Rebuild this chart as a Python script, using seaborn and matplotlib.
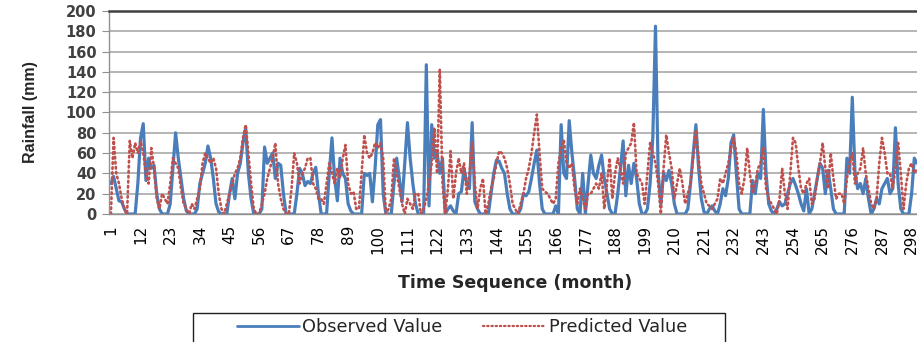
import matplotlib
matplotlib.use("Agg")
import matplotlib.pyplot as plt
from matplotlib.patches import Rectangle
import seaborn as sns
import pandas as pd
import numpy as np

months = list(range(1, 301))

observed = [
    30, 37, 25, 13, 12, 5, 0, 0, 0, 0,
    30, 75, 89, 33, 55, 45, 48, 20, 5, 0,
    0, 0, 10, 45, 80, 55, 35, 15, 3, 0,
    0, 0, 5, 30, 40, 50, 67, 55, 35, 10,
    2, 0, 0, 0, 20, 35, 15, 40, 50, 70,
    85, 40, 15, 0, 0, 0, 5, 66, 50, 55,
    60, 35, 50, 48, 20, 0, 0, 0, 0, 20,
    45, 40, 28, 32, 30, 40, 46, 20, 0, 0,
    0, 40, 75, 35, 13, 55, 40, 35, 10, 3,
    0, 0, 0, 0, 40, 38, 40, 12, 45, 88,
    93, 20, 0, 0, 0, 30, 55, 35, 12, 50,
    90, 55, 30, 10, 0, 0, 0, 147, 8, 88,
    55, 60, 40, 55, 0, 5, 8, 3, 0, 20,
    22, 45, 30, 25, 90, 12, 5, 0, 0, 0,
    0, 20, 40, 53, 52, 45, 40, 20, 5, 0,
    0, 0, 5, 20, 18, 22, 35, 50, 63, 30,
    5, 0, 0, 0, 0, 8, 0, 88, 40, 35,
    92, 60, 35, 5, 0, 40, 0, 30, 58, 40,
    35, 48, 58, 35, 20, 5, 0, 0, 20, 45,
    72, 18, 48, 30, 50, 35, 10, 0, 0, 5,
    30, 75, 185, 40, 10, 40, 33, 43, 30, 10,
    0, 0, 0, 0, 5, 30, 60, 88, 45, 15,
    2, 0, 5, 8, 3, 0, 10, 25, 18, 35,
    70, 78, 40, 5, 0, 0, 0, 0, 33, 20,
    40, 35, 103, 40, 10, 3, 0, 5, 12, 8,
    10, 20, 30, 35, 28, 20, 10, 3, 25, 0,
    5, 20, 35, 50, 45, 20, 43, 25, 5, 0,
    0, 0, 0, 55, 40, 115, 40, 25, 30, 20,
    35, 15, 0, 5, 15, 10, 25, 30, 35, 20,
    25, 85, 30, 5, 0, 0, 0, 20, 55, 50,
]

predicted = [
    0, 75, 40, 30, 15, 5, 0, 72, 55, 70,
    60, 72, 60, 40, 30, 65, 45, 15, 5, 20,
    15, 10, 30, 55, 50, 45, 25, 10, 5, 0,
    10, 5, 15, 25, 50, 60, 55, 50, 55, 45,
    20, 5, 0, 10, 20, 30, 40, 45, 55, 75,
    88, 60, 30, 5, 0, 0, 10, 20, 35, 45,
    55, 70, 30, 15, 5, 0, 0, 25, 60, 50,
    30, 40, 45, 55, 55, 30, 25, 15, 15, 10,
    30, 50, 40, 30, 45, 35, 55, 68, 30, 20,
    22, 5, 5, 40, 78, 60, 55, 60, 70, 65,
    70, 55, 0, 5, 15, 55, 40, 25, 10, 0,
    15, 10, 5, 20, 20, 0, 5, 15, 30, 50,
    85, 40, 143, 30, 0, 25, 62, 15, 40, 55,
    40, 50, 20, 40, 70, 30, 5, 25, 35, 0,
    10, 25, 35, 50, 62, 60, 55, 45, 30, 10,
    5, 0, 10, 20, 35, 45, 60, 80, 98, 60,
    25, 22, 20, 15, 10, 15, 50, 65, 73, 50,
    45, 50, 25, 10, 25, 15, 5, 20, 20, 25,
    30, 25, 40, 5, 30, 55, 15, 40, 55, 45,
    30, 60, 65, 70, 90, 40, 35, 30, 10, 40,
    70, 60, 50, 30, 0, 45, 78, 60, 45, 15,
    30, 45, 30, 10, 20, 30, 55, 83, 55, 30,
    20, 10, 8, 5, 10, 15, 35, 30, 40, 50,
    65, 75, 60, 30, 20, 35, 65, 40, 20, 30,
    45, 50, 65, 25, 15, 10, 5, 0, 15, 45,
    20, 5, 40, 75, 70, 45, 25, 20, 30, 35,
    10, 15, 35, 50, 70, 45, 25, 60, 35, 15,
    20, 20, 10, 35, 50, 60, 30, 40, 45, 65,
    40, 25, 10, 5, 15, 50, 75, 60, 40, 40,
    25, 45, 70, 40, 5, 30, 45, 50, 40, 45,
]

series_names = ["Observed Value", "Predicted Value"]
y_ticks = list(range(0, 201, 20))

df = pd.DataFrame({"month": months, "Observed Value": observed, "Predicted Value": predicted})

sns.set_style("white")
plt.rcParams["font.family"] = ["DejaVu Sans"]

W, H = 917, 342
fig = plt.figure(figsize=(W / 100, H / 100), dpi=100)
ax = fig.add_axes([109 / W, (H - 214) / H, (W - 109) / W, 203 / H])

blue = "#4A7EBB"
red = "#C0504D"

sns.lineplot(data=df, x="month", y="Observed Value", ax=ax, color=blue, lw=2.3,
             label=series_names[0], legend=False)
sns.lineplot(data=df, x="month", y="Predicted Value", ax=ax, color=red, lw=1.9,
             linestyle=(0, (0.6, 1.3)), dash_capstyle="round",
             label=series_names[1], legend=False)

ax.set_xlim(0.3, 299.9)
ax.set_ylim(0, 200)
ax.set_yticks(y_ticks)
ax.set_yticklabels([str(v) for v in y_ticks], fontsize=10.5, fontweight="bold", color="#404040")
ax.set_xticks(months)
lbls = [str(m) if (m - 1) % 11 == 0 else "" for m in months]
ax.set_xticklabels(lbls, rotation=90, fontsize=11, color="black")
ax.tick_params(axis="x", length=5, width=0.8, color="#909090", pad=3)
ax.tick_params(axis="y", length=5, width=0.8, color="#909090", pad=4, direction="out", left=True)
ax.set_xlabel("")
ax.set_ylabel("")
ax.yaxis.grid(True, color="#A0A0A0", lw=1.1)
ax.xaxis.grid(False)
ax.set_axisbelow(True)

for s in ["left", "bottom"]:
    ax.spines[s].set_color("#909090")
    ax.spines[s].set_linewidth(1.0)
ax.spines["right"].set_visible(False)
ax.spines["top"].set_color("#404040")
ax.spines["top"].set_linewidth(1.8)

fig.text(30 / W, 1 - 112 / H, "Rainfall (mm)", rotation=90, ha="center", va="center",
         fontsize=11.5, fontweight="bold", family=["Liberation Sans", "DejaVu Sans"])
fig.text(515 / W, 1 - 283 / H, "Time Sequence (month)", ha="center", va="center",
         fontsize=12.5, fontweight="bold")

# legend frame (box runs off the bottom edge as in the reference)
fig.patches.append(Rectangle((193 / W, -0.05), (725 - 193) / W, (H - 313) / H + 0.05,
                             transform=fig.transFigure, fill=False, edgecolor="#202020",
                             lw=1.0, zorder=1))

handles = ax.get_lines()[:2]
leg = fig.legend(handles, series_names, loc="center", bbox_to_anchor=(462 / W, 1 - 327 / H),
                 ncol=2, frameon=False, fontsize=12.8,
                 handlelength=3.5, handletextpad=0.2, columnspacing=2.3, borderpad=0.2,
                 borderaxespad=0)
leg.get_lines()[0].set_linewidth(2.0)
leg.get_lines()[1].set_linewidth(1.6)

fig.savefig("out.png", dpi=100)
